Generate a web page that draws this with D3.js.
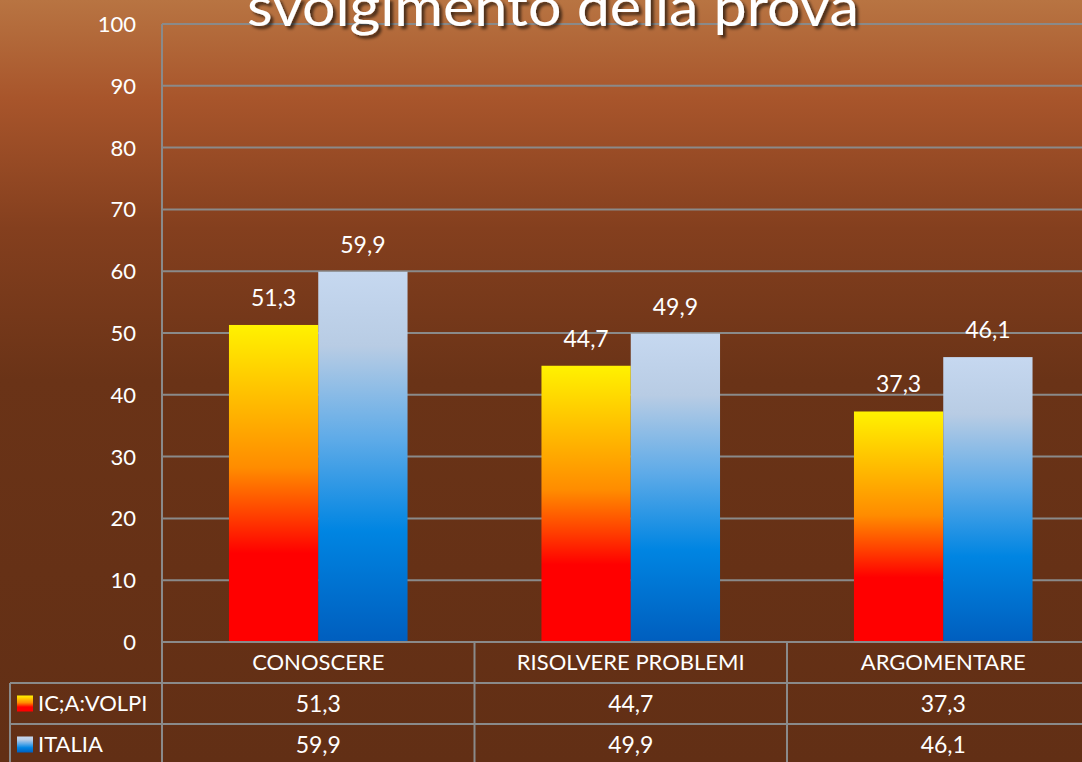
<!DOCTYPE html>
<html>
<head>
<meta charset="utf-8">
<script src="https://cdn.jsdelivr.net/npm/d3@7"></script>
<style>
  html, body { margin: 0; padding: 0; background: #622f15; overflow: hidden; }
  svg { display: block; font-family: Lato, "Open Sans", sans-serif; }
</style>
</head>
<body>
<svg id="chart"></svg>
<script>
var categorie = ["CONOSCERE", "RISOLVERE PROBLEMI", "ARGOMENTARE"];
var serie = ["IC;A:VOLPI", "ITALIA"];
var valoriVolpi = [51.3, 44.7, 37.3];
var valoriItalia = [59.9, 49.9, 46.1];
var ticks = [0, 10, 20, 30, 40, 50, 60, 70, 80, 90, 100];
var titolo = "svolgimento della prova";

var width = 1082;
var height = 762;

var LEFT = 162;
var BAND = 312.5;
var TOP = 24;
var BOTTOM = 642;
var ROW_H = 41;
var GRID = "#8a8a8a";

var fmt = function(v){ return d3.format(".1f")(v).replace(".", ","); };

var svg = d3.select("#chart").attr("width", width).attr("height", height);
var defs = svg.append("defs");

var bg = defs.append("linearGradient").attr("id", "bg")
  .attr("x1", 0).attr("y1", 0).attr("x2", 0).attr("y2", 1);
[[0, "#b87442"], [0.13, "#a8552b"], [0.3, "#843f1e"], [0.5, "#6a3317"], [1, "#622f15"]]
  .forEach(function(s){ bg.append("stop").attr("offset", s[0]).attr("stop-color", s[1]); });

var gVolpi = defs.append("linearGradient").attr("id", "gVolpi")
  .attr("x1", 0).attr("y1", 0).attr("x2", 0).attr("y2", 1);
[[0, "#fff200"], [0.22, "#ffc000"], [0.45, "#ff8c00"], [0.6, "#ff4000"], [0.72, "#ff0000"], [1, "#ff0000"]]
  .forEach(function(s){ gVolpi.append("stop").attr("offset", s[0]).attr("stop-color", s[1]); });

var gItalia = defs.append("linearGradient").attr("id", "gItalia")
  .attr("x1", 0).attr("y1", 0).attr("x2", 0).attr("y2", 1);
[[0, "#c6d8f0"], [0.2, "#b8cce4"], [0.45, "#5fabe8"], [0.7, "#0085e2"], [1, "#005ebe"]]
  .forEach(function(s){ gItalia.append("stop").attr("offset", s[0]).attr("stop-color", s[1]); });

var shadow = defs.append("filter").attr("id", "shadow")
  .attr("x", "-10%").attr("y", "-30%").attr("width", "120%").attr("height", "160%");
shadow.append("feDropShadow").attr("dx", 3).attr("dy", 3).attr("stdDeviation", 1.5)
  .attr("flood-color", "#000").attr("flood-opacity", 0.6);

svg.append("rect").attr("width", width).attr("height", height).attr("fill", "url(#bg)");

var x = d3.scaleBand().domain(categorie).range([LEFT, LEFT + BAND * categorie.length]);
var xs = d3.scaleBand().domain(serie).range([0, x.bandwidth()]).paddingInner(0).paddingOuter(0.75);
var y = d3.scaleLinear().domain([0, 100]).range([BOTTOM, TOP]);

// griglia
svg.append("g").selectAll("line").data(ticks).enter().append("line")
  .attr("x1", LEFT).attr("x2", width)
  .attr("y1", function(d){ return y(d); }).attr("y2", function(d){ return y(d); })
  .attr("stroke", GRID).attr("stroke-width", 2);

svg.append("line").attr("x1", LEFT).attr("x2", LEFT).attr("y1", TOP).attr("y2", BOTTOM + ROW_H * 3)
  .attr("stroke", GRID).attr("stroke-width", 2);

// etichette asse y
svg.append("g").selectAll("text").data(ticks).enter().append("text")
  .attr("x", 136).attr("y", function(d){ return y(d); }).attr("dy", "0.36em")
  .attr("text-anchor", "end").attr("font-size", 22).attr("fill", "#fff")
  .text(function(d){ return d; });

// barre
var valori = [valoriVolpi, valoriItalia];
var fills = ["url(#gVolpi)", "url(#gItalia)"];

serie.forEach(function(s, si){
  var g = svg.append("g");
  g.selectAll("rect").data(categorie).enter().append("rect")
    .attr("x", function(c){ return x(c) + xs(s); })
    .attr("width", xs.bandwidth())
    .attr("y", function(c, i){ return y(valori[si][i]); })
    .attr("height", function(c, i){ return BOTTOM - y(valori[si][i]); })
    .attr("fill", fills[si]);
  g.selectAll("text").data(categorie).enter().append("text")
    .attr("x", function(c){ return x(c) + xs(s) + xs.bandwidth() / 2; })
    .attr("y", function(c, i){ return y(valori[si][i]) - 19; })
    .attr("text-anchor", "middle").attr("font-size", 23).attr("fill", "#fff")
    .text(function(c, i){ return fmt(valori[si][i]); });
});

// asse x sopra la tabella
svg.append("line").attr("x1", LEFT).attr("x2", width).attr("y1", BOTTOM).attr("y2", BOTTOM)
  .attr("stroke", GRID).attr("stroke-width", 2);

// tabella dati
var tab = svg.append("g");
[1, 2].forEach(function(r){
  tab.append("line").attr("x1", 10).attr("x2", width)
    .attr("y1", BOTTOM + ROW_H * r).attr("y2", BOTTOM + ROW_H * r)
    .attr("stroke", GRID).attr("stroke-width", 2);
});
tab.append("line").attr("x1", 10).attr("x2", 10).attr("y1", BOTTOM + ROW_H).attr("y2", height)
  .attr("stroke", GRID).attr("stroke-width", 2);
categorie.forEach(function(c, i){
  if (i === 0) return;
  tab.append("line").attr("x1", x(c)).attr("x2", x(c)).attr("y1", BOTTOM).attr("y2", height)
    .attr("stroke", GRID).attr("stroke-width", 2);
});

tab.selectAll("text.cat").data(categorie).enter().append("text").attr("class", "cat")
  .attr("x", function(c){ return x(c) + x.bandwidth() / 2; })
  .attr("y", BOTTOM + ROW_H / 2).attr("dy", "0.36em")
  .attr("text-anchor", "middle").attr("font-size", 22).attr("fill", "#fff")
  .text(function(c){ return c; });

serie.forEach(function(s, si){
  var ry = BOTTOM + ROW_H * (si + 1) + ROW_H / 2;
  tab.append("rect").attr("x", 17).attr("y", ry - 8).attr("width", 16).attr("height", 16)
    .attr("fill", fills[si]);
  tab.append("text").attr("x", 38).attr("y", ry).attr("dy", "0.36em")
    .attr("font-size", 22).attr("fill", "#fff").text(s);
  tab.selectAll("text.v" + si).data(categorie).enter().append("text").attr("class", "v" + si)
    .attr("x", function(c){ return x(c) + x.bandwidth() / 2; })
    .attr("y", ry).attr("dy", "0.36em")
    .attr("text-anchor", "middle").attr("font-size", 23).attr("fill", "#fff")
    .text(function(c, i){ return fmt(valori[si][i]); });
});

// titolo (tagliato in alto come nell'originale)
svg.append("text").attr("x", 553).attr("y", 26)
  .attr("text-anchor", "middle").attr("font-size", 54).attr("fill", "#fff")
  .attr("filter", "url(#shadow)")
  .attr("textLength", 612).attr("lengthAdjust", "spacingAndGlyphs")
  .text(titolo);
</script>
</body>
</html>
